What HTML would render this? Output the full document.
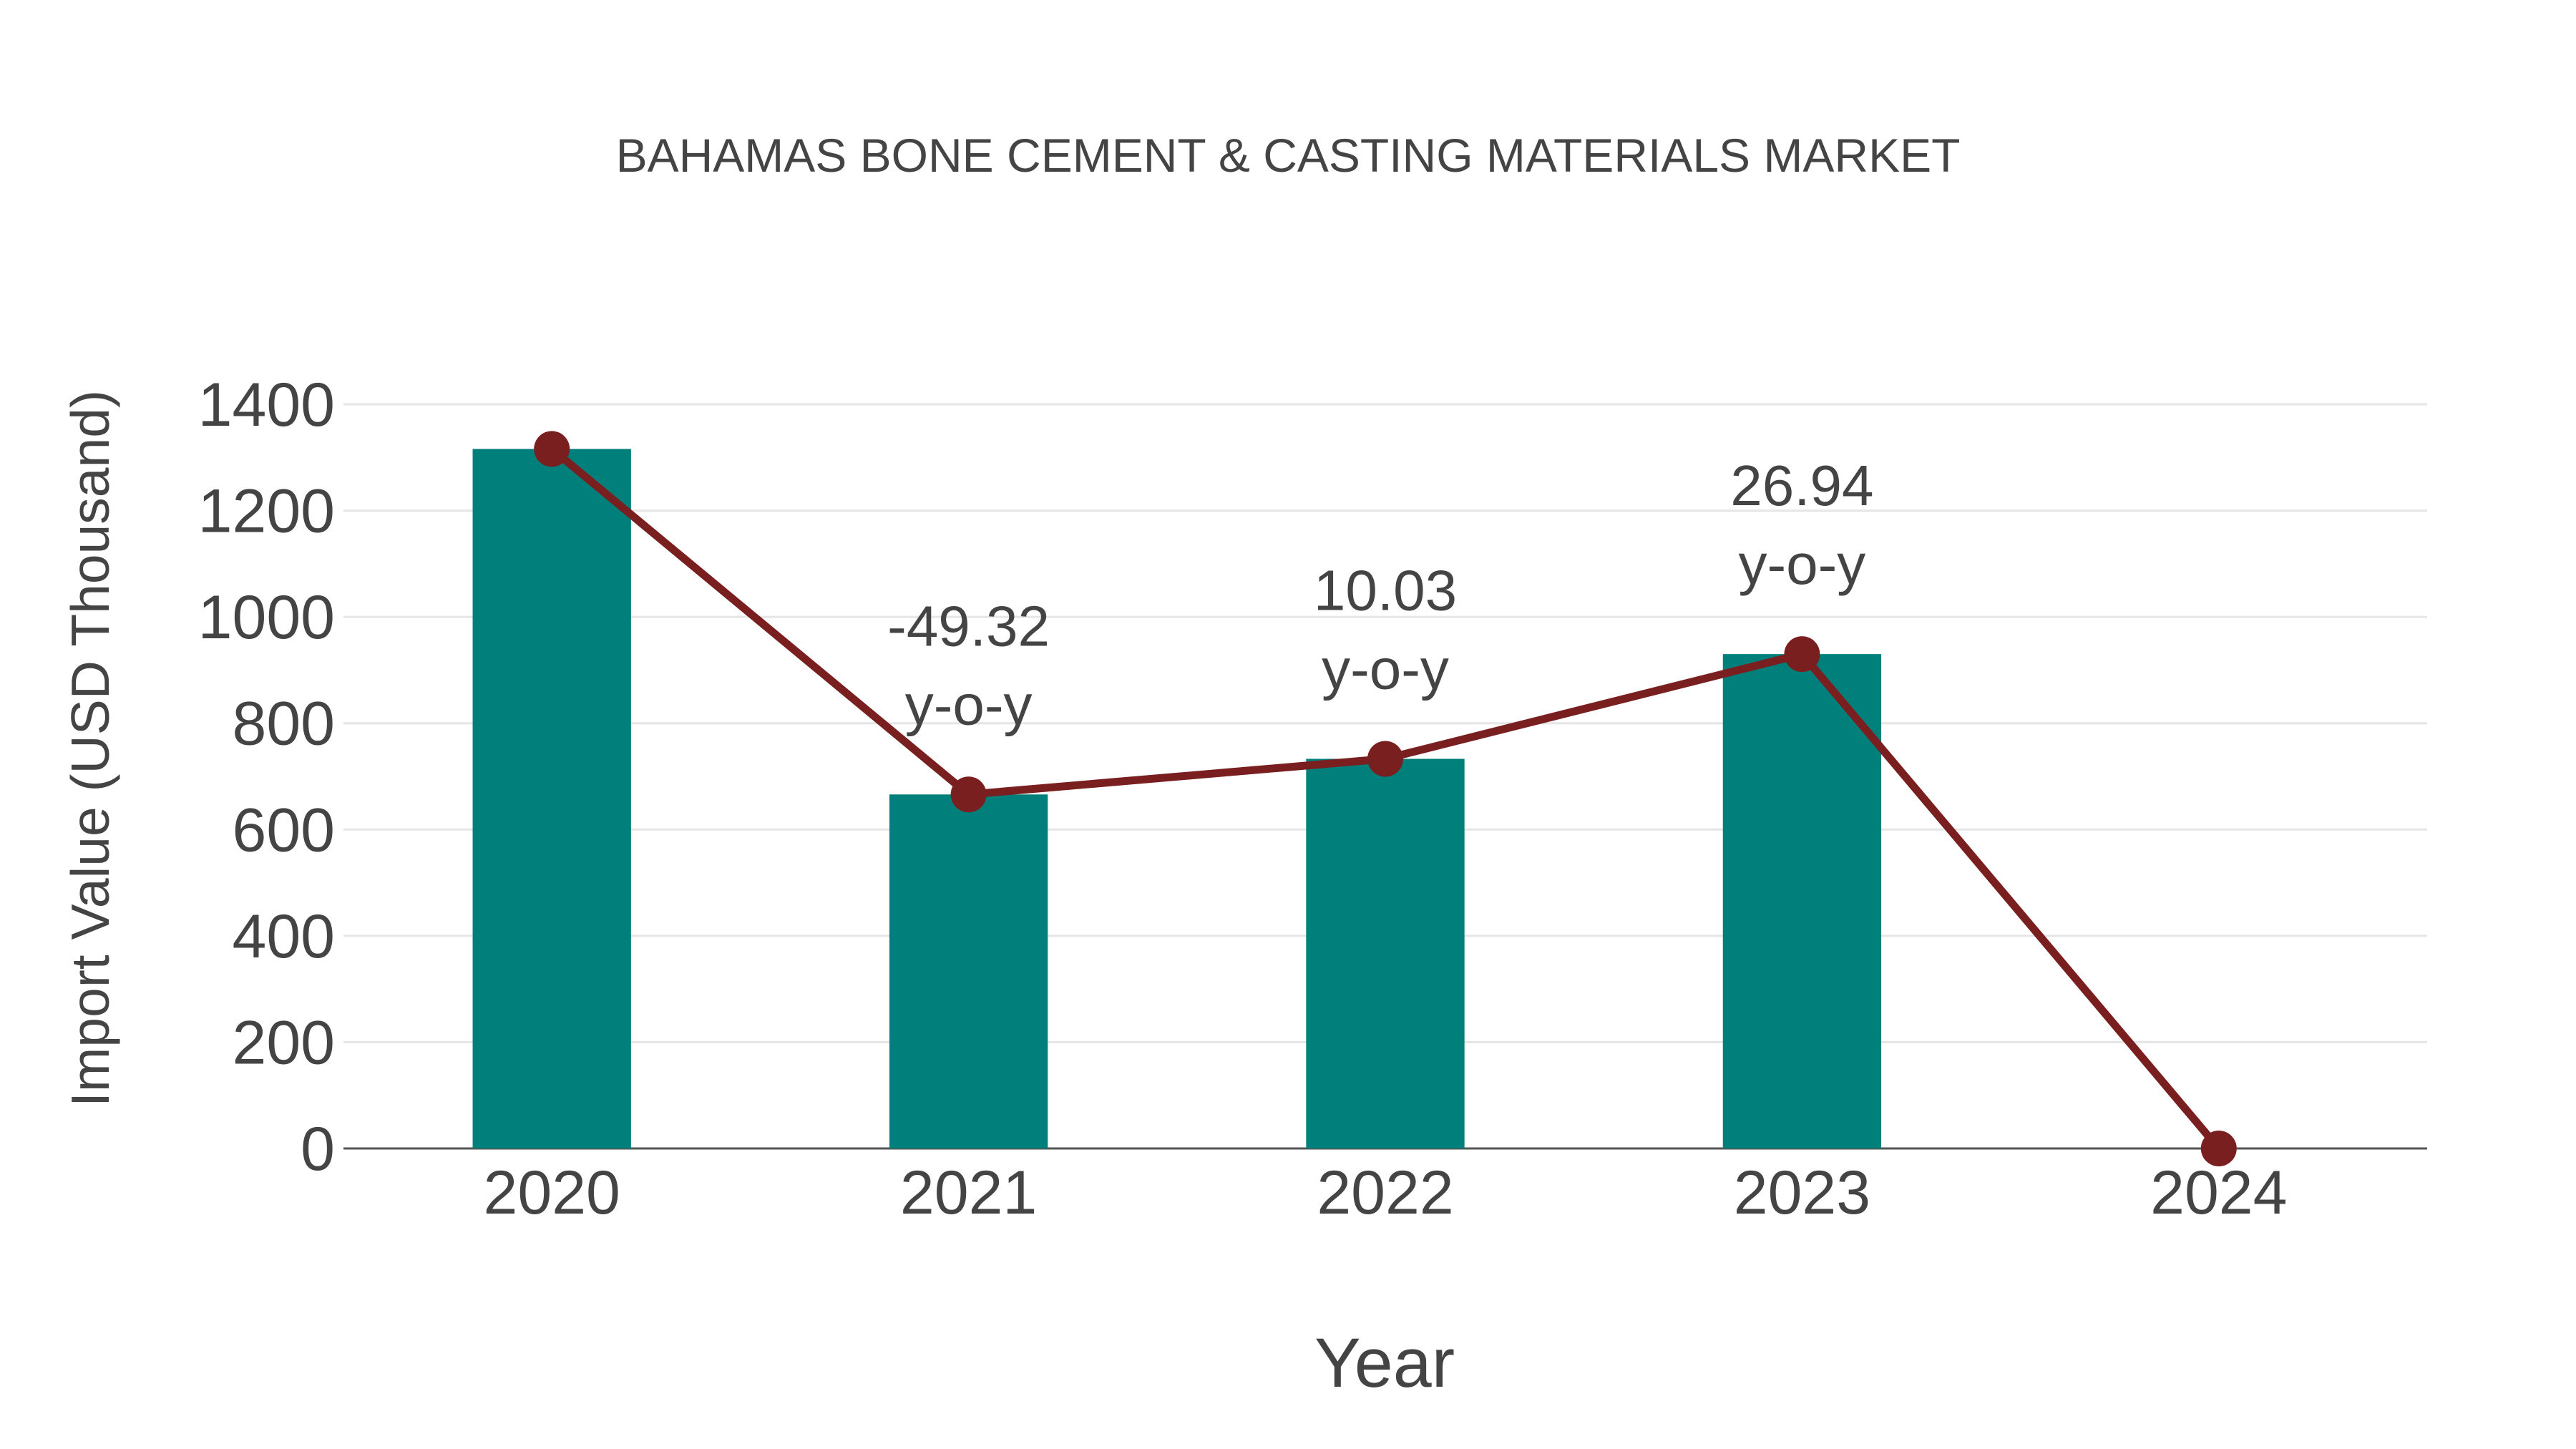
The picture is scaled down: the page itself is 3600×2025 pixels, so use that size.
<!DOCTYPE html>
<html><head><meta charset="utf-8"><style>
html,body{margin:0;padding:0;background:#fff;}
svg{display:block;font-family:"Liberation Sans",sans-serif;}
</style></head><body>
<svg id="chart" width="3600" height="2025" viewBox="0 0 3600 2025" xmlns="http://www.w3.org/2000/svg">
<rect width="3600" height="2025" fill="#fff"/>
<text x="1800" y="240" font-size="66" fill="#444" text-anchor="middle">BAHAMAS BONE CEMENT &amp; CASTING MATERIALS MARKET</text>
<g id="grid"></g>
<g id="bars"></g>
<g id="line"></g>
<g id="labels"></g>
<g id="xticks"></g>
<text x="1935" y="1938" font-size="97" fill="#444" text-anchor="middle">Year</text>
<text transform="translate(152,1046) rotate(-90)" font-size="75" fill="#444" text-anchor="middle">Import Value (USD Thousand)</text>
</svg>
<script>
const categories = ["2020","2021","2022","2023","2024"];
const barValues = [1316, 666, 733, 930, null];
const lineValues = [1316, 666, 733, 930, 0];
const yoyLabels = [null, "-49.32", "10.03", "26.94", null];
const yTicks = [0,200,400,600,800,1000,1200,1400];

const NS="http://www.w3.org/2000/svg";
const left=480,right=3392,y0=1605,pxPerUnit=(1605-565)/1400;
const band=(right-left)/categories.length;
function xScale(i){return left+band*(i+0.5);}
function yScale(v){return y0-v*pxPerUnit;}
function mk(tag,attrs,parent){const e=document.createElementNS(NS,tag);for(const k in attrs)e.setAttribute(k,attrs[k]);parent.appendChild(e);return e;}

const grid=document.getElementById('grid');
yTicks.forEach(t=>{
  if(t>0){const l=mk('line',{x1:left,x2:right,y1:yScale(t),y2:yScale(t),stroke:'#e5e5e5','stroke-width':3},grid);
  
  }
  const tx=mk('text',{x:left-12,y:yScale(t)+30,'font-size':86,fill:'#444','text-anchor':'end'},grid);
  tx.textContent=t;
  
  
});
const bars=document.getElementById('bars');
barValues.forEach((v,i)=>{
  if(v==null)return;
  const w=band*0.38;
  const r=mk('rect',{x:xScale(i)-w/2,y:yScale(v),width:w,height:y0-yScale(v),fill:'#007f7b'},bars);
  
  
});
const axis=mk('line',{x1:left,x2:right,y1:y0,y2:y0,stroke:'#555','stroke-width':3},grid);


const lg=document.getElementById('line');
const pts=lineValues.map((v,i)=>xScale(i)+','+yScale(v)).join(' ');
const pl=mk('polyline',{points:pts,fill:'none',stroke:'#7a1f1f','stroke-width':11,'stroke-linejoin':'round'},lg);


lineValues.forEach((v,i)=>{
  const c=mk('circle',{cx:xScale(i),cy:yScale(v),r:25,fill:'#7a1f1f'},lg);
  
  
});
const lb=document.getElementById('labels');
yoyLabels.forEach((s,i)=>{
  if(s==null)return;
  const y=yScale(lineValues[i]);
  const t1=mk('text',{x:xScale(i),y:y-208,'font-size':80,fill:'#444','text-anchor':'middle'},lb);
  t1.textContent=s;
  
  
  const t2=mk('text',{x:xScale(i),y:y-98,'font-size':80,fill:'#444','text-anchor':'middle'},lb);
  t2.textContent='y-o-y';
  
  
});
const xt=document.getElementById('xticks');
categories.forEach((c,i)=>{
  const t=mk('text',{x:xScale(i),y:1696,'font-size':86,fill:'#444','text-anchor':'middle'},xt);
  t.textContent=c;
  
  
});
</script>
</body></html>
